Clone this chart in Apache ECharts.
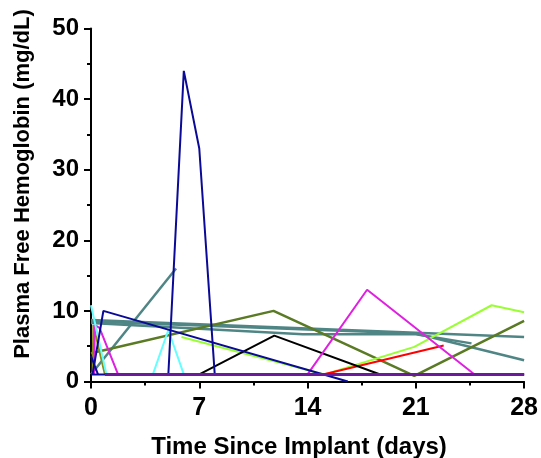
<!DOCTYPE html>
<html>
<head>
<meta charset="utf-8">
<script src="https://cdn.jsdelivr.net/npm/echarts@6/dist/echarts.min.js"></script>
<style>html,body{margin:0;padding:0;background:#fff}#c{width:541px;height:458px}</style>
</head>
<body>
<div id="c"></div>
<script>
const xTicks = [0, 7, 14, 21, 28];
const yTicks = [0, 10, 20, 30, 40, 50];
const xTitle = 'Time Since Implant (days)';
const yTitle = 'Plasma Free Hemoglobin (mg/dL)';

const navySpike = [[0,1],[5,1],[6,44],[7,33],[8,1],[28,1]];
const navy2 = [[0.1,1],[0.8,10],[16.6,0]];
const navy3 = [[0,3.6],[0.45,1]];
const cyan1 = [[0,10.8],[1,1]];
const cyan2 = [[4,1],[5,7.3],[6,1]];
const magenta1 = [[0.2,1],[0.25,8],[0.55,7.6],[1.75,1]];
const magenta2 = [[14,1],[17.85,13],[24.8,1],[28,1]];
const black1 = [[7,1],[11.85,6.5],[18.7,1],[28,1]];
const red1 = [[15,1],[22.8,5.1]];
const lime1 = [[5.85,6.3],[15.1,1],[20.9,4.9],[25.9,10.8],[28,9.8]];
const olive1 = [[0,4],[11.8,10],[20.9,0.8],[28,8.6]];
const olive2 = [[0.1,1],[0.15,8],[0.9,1]];
const tealB = [[0,1],[5.5,16]];
const tealC = [[0,8.7],[21,6.9],[28,6.3]];
const tealD = [[0,8.5],[21,6.8],[28,3.0]];
const tealE = [[0,8.3],[13.7,6.7],[21,6.7],[24.6,5.4]];
const purple1 = [[0.9,1],[28,1]];

function line(data, color, width) {
  return { type: 'line', data: data, symbol: 'none', clip: true,
    lineStyle: { color: color, width: width || 2 }, itemStyle: { color: color }, silent: true };
}

const chart = echarts.init(document.getElementById('c'), null, { renderer: 'canvas' });
const fam = '"Liberation Sans", Arial, sans-serif';
chart.setOption({
  animation: false,
  grid: { left: 91, right: 15, top: 28.5, bottom: 76.5 },
  xAxis: {
    type: 'value', min: xTicks[0], max: xTicks[xTicks.length - 1], interval: 7,
    axisLine: { show: true, onZero: false, lineStyle: { color: '#000', width: 2 } },
    axisTick: { show: true, inside: false, length: 7, lineStyle: { color: '#000', width: 2 } },
    minorTick: { show: true, splitNumber: 2, length: 4, lineStyle: { color: '#000', width: 2 } },
    splitLine: { show: false },
    axisLabel: { margin: 14, color: '#000', fontWeight: 'bold', fontSize: 25, fontFamily: fam }
  },
  yAxis: {
    type: 'value', min: yTicks[0], max: yTicks[yTicks.length - 1], interval: 10,
    axisLine: { show: true, lineStyle: { color: '#000', width: 2 } },
    axisTick: { show: true, inside: false, length: 7, lineStyle: { color: '#000', width: 2 } },
    minorTick: { show: true, splitNumber: 2, length: 4, lineStyle: { color: '#000', width: 2 } },
    splitLine: { show: false },
    axisLabel: { margin: 12, color: '#000', fontWeight: 'bold', fontSize: 24, fontFamily: fam }
  },
  graphic: [
    { type: 'text', x: 299, y: 447,
      style: { text: xTitle, x: 0, y: 0, align: 'center', verticalAlign: 'middle',
        fill: '#000', font: 'bold 24px ' + fam } },
    { type: 'text', x: 23, y: 184, rotation: Math.PI / 2,
      style: { text: yTitle, x: 0, y: 0, align: 'center', verticalAlign: 'middle',
        fill: '#000', font: 'bold 22px ' + fam } }
  ],
  series: [
    line(tealB, '#4f8585', 2.5),
    line(tealC, '#4f8585', 2.5),
    line(tealD, '#4f8585', 2.5),
    line(tealE, '#4f8585', 2.5),
    line(olive1, '#5a7a24', 2.5),
    line(olive2, '#8c8c1a'),
    line(lime1, '#99ff33'),
    line(red1, '#ff0000'),
    line(black1, '#000000'),
    line(magenta2, '#e020e0'),
    line(magenta1, '#e020e0'),
    line(cyan1, '#66ffff'),
    line(cyan2, '#66ffff'),
    line(navy3, '#0a0a96'),
    line(navy2, '#0a0a96'),
    line(navySpike, '#0a0a96'),
    line(purple1, '#6a1b9a', 3)
  ]
});
</script>
</body>
</html>
